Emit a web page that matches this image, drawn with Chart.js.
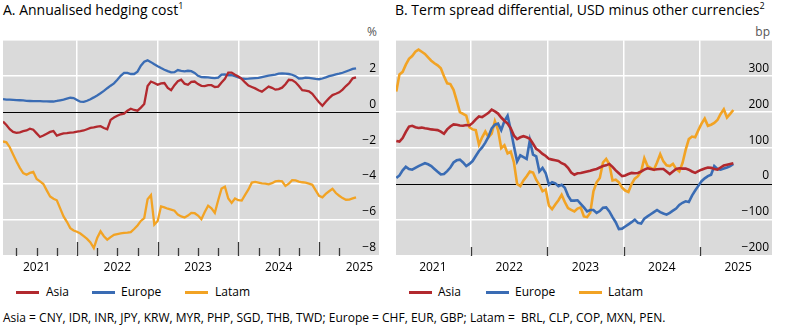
<!DOCTYPE html>
<html lang="en">
<head>
<meta charset="utf-8">
<title>Hedging cost and term spread differential</title>
<script src="https://cdn.jsdelivr.net/npm/chart.js@4.4.1/dist/chart.umd.min.js"></script>
<style>
  body { margin: 0; width: 789px; height: 326px; background: #fff; color: #000;
         font-family: "Open Sans", sans-serif; position: relative; overflow: hidden; }
  .abs { position: absolute; white-space: pre; }
  .title { top: 0; font-size: 14px; line-height: 20px; }
  .title sup { font-size: 9px; vertical-align: 0; position: relative; top: -6px; }
  .unit { top: 24px; font-size: 12px; line-height: 16px; color: #555; }
  .panel { position: absolute; top: 36px; height: 244px; }
  .key { position: absolute; top: 291px; width: 23px; height: 3px; }
  .legend { top: 284px; font-size: 12px; line-height: 16px; }
  .note { left: 3px; top: 310px; font-size: 12px; line-height: 16px; }
</style>
</head>
<body>

<div class="abs title" style="left:3px">A. Annualised hedging cost<sup>1</sup></div>
<div class="abs title" style="left:395px">B. Term spread differential, USD minus other currencies<sup>2</sup></div>
<div class="abs unit" style="right:412px">%</div>
<div class="abs unit" style="right:19px">bp</div>

<div class="panel" style="left:0; width:389px"><canvas id="hedging"></canvas></div>
<div class="panel" style="left:393px; width:396px"><canvas id="spread"></canvas></div>

<div id="legends"></div>

<div class="abs note">Asia = CNY, IDR, INR, JPY, KRW, MYR, PHP, SGD, THB, TWD; Europe = CHF, EUR, GBP; Latam =  BRL, CLP, COP, MXN, PEN.</div>

<script>
// series names and colours, shared by both panels
const seriesNames = ["Asia", "Europe", "Latam"];
const seriesColours = ["#b2292e", "#3a6cb4", "#f2a324"];

// panel A: annualised hedging cost, %, twice a month from Feb 2021
const hedgeStart = 2021 + 1 / 12;
const hedgeAsia = [
  -0.52, -0.72, -0.95, -1.10, -1.15, -1.12, -1.06, -1.02, -0.92, -0.98,
  -1.18, -1.38, -1.30, -1.20, -1.10, -1.05, -1.31, -1.24, -1.18, -1.17,
  -1.14, -1.12, -1.08, -1.06, -1.02, -0.95, -0.88, -0.85, -0.80, -0.78,
  -0.88, -0.95, -0.43, -0.30, -0.20, -0.12, -0.08, 0.08, 0.19, 0.12,
  0.08, 0.25, 0.45, 1.45, 1.70, 1.62, 1.52, 1.60, 1.62, 1.35,
  1.22, 1.50, 1.72, 1.80, 1.58, 1.52, 1.68, 1.70, 1.56, 1.46,
  1.45, 1.50, 1.50, 1.40, 1.42, 1.65, 1.85, 2.20, 2.20, 2.08,
  1.98, 1.85, 1.65, 1.48, 1.40, 1.32, 1.22, 1.14, 1.28, 1.42,
  1.35, 1.25, 1.28, 1.36, 1.55, 1.80, 1.78, 1.66, 1.45, 1.22,
  1.20, 1.16, 1.02, 0.78, 0.55, 0.35, 0.58, 0.78, 0.95, 1.02,
  1.10, 1.25, 1.45, 1.62, 1.88, 1.93
];
const hedgeEurope = [
  0.72, 0.70, 0.69, 0.68, 0.67, 0.66, 0.65, 0.63, 0.62, 0.61,
  0.61, 0.61, 0.60, 0.60, 0.59, 0.59, 0.62, 0.66, 0.70, 0.75,
  0.80, 0.78, 0.68, 0.58, 0.57, 0.63, 0.72, 0.82, 0.93, 1.05,
  1.18, 1.33, 1.47, 1.60, 1.80, 2.02, 2.18, 2.18, 2.12, 2.12,
  2.25, 2.58, 2.80, 2.88, 2.78, 2.66, 2.55, 2.45, 2.36, 2.28,
  2.21, 2.22, 2.34, 2.30, 2.27, 2.30, 2.28, 2.18, 2.02, 1.95,
  1.94, 1.93, 1.91, 1.89, 1.92, 2.08, 2.10, 2.05, 2.06, 2.00,
  1.93, 1.88, 1.85, 1.86, 1.88, 1.89, 1.90, 1.95, 1.99, 2.03,
  2.06, 2.09, 2.14, 2.15, 2.14, 2.12, 2.08, 2.00, 1.87, 1.88,
  1.92, 1.91, 1.88, 1.85, 1.83, 1.87, 1.93, 2.00, 2.05, 2.10,
  2.14, 2.19, 2.26, 2.33, 2.40, 2.44
];
const hedgeLatam = [
  -1.63, -1.68, -1.95, -2.35, -2.75, -3.10, -3.39, -3.48, -3.38, -3.32,
  -3.72, -3.85, -4.00, -4.35, -4.69, -4.82, -4.90, -5.35, -5.80, -6.10,
  -6.45, -6.58, -6.65, -6.75, -6.90, -7.05, -7.25, -7.56, -7.00, -6.63,
  -6.90, -7.09, -6.95, -6.82, -6.78, -6.74, -6.72, -6.70, -6.67, -6.50,
  -6.30, -6.05, -5.89, -4.85, -4.62, -6.25, -6.05, -5.24, -5.30, -5.37,
  -5.42, -5.48, -5.70, -5.80, -5.86, -5.75, -5.60, -5.62, -5.75, -5.95,
  -5.55, -5.20, -5.35, -5.60, -4.90, -4.25, -4.15, -4.80, -5.05, -4.80,
  -4.90, -4.92, -4.60, -4.30, -3.92, -3.88, -3.92, -3.96, -3.98, -4.02,
  -3.95, -3.85, -3.82, -3.85, -4.10, -3.98, -3.78, -3.80, -3.86, -3.90,
  -3.92, -3.98, -4.04, -4.35, -4.65, -4.74, -4.55, -4.40, -4.26, -4.50,
  -4.65, -4.78, -4.87, -4.86, -4.80, -4.74
];
const hedgeTicks = [-8, -6, -4, -2, 0, 2, 4];

// panel B: term spread differential, basis points, twice a month from Jan 2021
const spreadStart = 2021 + 0.5 / 24;
const spreadAsia = [
  120, 118, 128, 145, 160, 162, 158, 156, 157, 155,
  154, 152, 151, 150, 146, 140, 152, 160, 166, 165,
  163, 162, 164, 163, 170, 180, 188, 186, 192, 198,
  207, 202, 196, 185, 176, 168, 155, 135, 125, 130,
  133, 130, 126, 112, 98, 92, 84, 78, 70, 68,
  66, 64, 58, 54, 45, 32, 26, 30, 31, 33,
  35, 37, 40, 42, 46, 50, 52, 56, 48, 38,
  30, 22, 24, 28, 31, 30, 31, 35, 40, 44,
  42, 40, 41, 42, 42, 35, 28, 35, 42, 44,
  43, 43, 40, 35, 31, 36, 40, 43, 46, 45,
  42, 40, 46, 52, 54, 56, 58
];
const spreadEurope = [
  17, 24, 38, 48, 42, 40, 45, 50, 54, 58,
  55, 50, 42, 34, 27, 28, 36, 46, 60, 66,
  68, 60, 50, 56, 64, 78, 92, 102, 115, 132,
  155, 165, 168, 150, 175, 190, 150, 105, 63, 80,
  75, 70, 122, 82, 77, 35, 45, 30, -2, 5,
  2, -6, -2, -10, -32, -46, -46, -45, -55, -65,
  -76, -72, -72, -80, -75, -66, -65, -76, -92, -106,
  -125, -124, -118, -112, -106, -99, -108, -110, -96, -90,
  -84, -78, -72, -78, -82, -85, -80, -74, -68, -58,
  -52, -48, -50, -32, -18, -5, 8, 16, 22, 26,
  50, 42, 40, 43, 46, 50, 56
];
const spreadLatam = [
  257, 305, 312, 332, 348, 356, 368, 374, 368, 362,
  352, 343, 336, 330, 322, 300, 280, 278, 262, 232,
  200, 195, 190, 158, 152, 150, 110, 130, 146, 130,
  140, 175, 150, 100, 108, 85, 90, 60, 0, -6,
  10, 22, 35, 32, 12, -2, -20, -15, -60, -70,
  -57, -45, -30, -50, -67, -72, -76, -68, -65, -90,
  -92, -80, -20, 5, 17, 60, 70, 55, 10, 12,
  5, -10, -18, -22, 0, 15, 22, 35, 72, 50,
  45, 40, 60, 83, 63, 52, 50, 56, 42, 35,
  58, 95, 125, 132, 130, 150, 168, 182, 162, 165,
  170, 178, 195, 208, 185, 195, 206
];
const spreadTicks = [-200, -100, 0, 100, 200, 300, 400];

const yearLabels = [2021, 2022, 2023, 2024, 2025];

const FONT = "'Open Sans', sans-serif";

// date of each semi-monthly observation, as a fractional year
function points(start, values) {
  return values.map((v, i) => ({ x: start + i / 24, y: v }));
}

function minus(v) {
  return v < 0 ? "\u2212" + Math.abs(v) : String(v);
}

// grey plot background plus the small tick marks standing on the bottom edge
const panelFrame = {
  id: "panelFrame",
  beforeDraw(chart, args, opts) {
    const { ctx, chartArea: a } = chart;
    ctx.save();
    ctx.fillStyle = "#dadada";
    ctx.fillRect(a.left, a.top, a.width, a.height);
    ctx.restore();
  },
  afterDraw(chart, args, opts) {
    const { ctx, chartArea: a, scales } = chart;
    ctx.save();
    ctx.strokeStyle = "#3a3a3a";
    ctx.lineWidth = 1.3;
    for (const m of opts.marks || []) {
      const x = Math.round(scales.x.getPixelForValue(m.at)) + 0.5;
      ctx.beginPath();
      ctx.moveTo(x, a.bottom);
      ctx.lineTo(x, a.bottom - m.len);
      ctx.stroke();
    }
    ctx.restore();
  }
};

function makePanel(id, cfg) {
  const xTicks = [];
  yearLabels.forEach(y => {
    xTicks.push(y + 0.5);
    if (y > yearLabels[0]) xTicks.push(y);
  });
  xTicks.sort((a, b) => a - b);

  const yMax = cfg.yTicks[cfg.yTicks.length - 1];

  return new Chart(document.getElementById(id), {
    type: "line",
    data: {
      datasets: cfg.series.map((vals, i) => ({
        label: seriesNames[i],
        data: points(cfg.start, vals),
        borderColor: seriesColours[i],
        borderWidth: cfg.lineWidth,
        pointRadius: 0,
        tension: 0,
        fill: false
      }))
    },
    options: {
      responsive: true,
      maintainAspectRatio: false,
      animation: false,
      layout: { padding: { left: 3, right: cfg.padRight, top: 4, bottom: 0 } },
      plugins: {
        legend: { display: false },
        tooltip: { enabled: false },
        panelFrame: { marks: cfg.marks }
      },
      scales: {
        x: {
          type: "linear",
          min: cfg.xMin,
          max: cfg.xMax,
          afterBuildTicks: s => { s.ticks = xTicks.map(v => ({ value: v })); },
          afterFit: s => { s.height = 24; },
          border: { display: false },
          grid: {
            drawTicks: false,
            color: c => Number.isInteger(c.tick.value) ? "#ffffff" : "rgba(0,0,0,0)",
            lineWidth: 1.5
          },
          ticks: {
            autoSkip: false,
            maxRotation: 0,
            padding: 4,
            color: "#000",
            font: { family: FONT, size: 12 },
            callback: v => Number.isInteger(v) ? "" : String(Math.floor(v))
          }
        },
        y: {
          position: "right",
          min: cfg.yTicks[0],
          max: yMax,
          afterBuildTicks: s => { s.ticks = cfg.yTicks.map(v => ({ value: v })); },
          afterFit: s => { s.width = 0; },
          border: { display: false },
          grid: {
            drawTicks: false,
            color: c => c.tick.value === 0 ? "#000000" : "#ffffff",
            lineWidth: c => c.tick.value === 0 ? 1 : 1.5
          },
          ticks: {
            mirror: true,
            padding: -3,
            labelOffset: -8,
            color: "#000",
            font: { family: FONT, size: 12 },
            callback: v => v === yMax ? "" : minus(v)
          }
        }
      }
    },
    plugins: [panelFrame]
  });
}

// quarterly marks in panel A, taller at the turn of each year
const hedgeMarks = [];
for (let q = 2021.25; q <= 2025.25; q += 0.25) {
  hedgeMarks.push({ at: q, len: Number.isInteger(q) ? 14 : 8 });
}
const spreadMarks = [2022, 2023, 2024, 2025].map(y => ({ at: y, len: 9 }));

makePanel("hedging", {
  start: hedgeStart,
  series: [hedgeAsia, hedgeEurope, hedgeLatam],
  xMin: 2021.083, xMax: 2025.743,
  yTicks: hedgeTicks,
  lineWidth: 2.3,
  padRight: 10,
  marks: hedgeMarks
});

makePanel("spread", {
  start: spreadStart,
  series: [spreadAsia, spreadEurope, spreadLatam],
  xMin: 2021.017, xMax: 2025.944,
  yTicks: spreadTicks,
  lineWidth: 2.6,
  padRight: 17,
  marks: spreadMarks
});

// legends under each panel
const legendSpots = [
  [[16, 46], [92, 121], [185, 215]],
  [[409, 438], [486, 515], [579, 608]]
];
const legendBox = document.getElementById("legends");
legendSpots.forEach(row => {
  row.forEach(([lineX, textX], i) => {
    const key = document.createElement("div");
    key.className = "key";
    key.style.left = lineX + "px";
    key.style.background = seriesColours[i];
    legendBox.appendChild(key);
    const txt = document.createElement("div");
    txt.className = "abs legend";
    txt.style.left = textX + "px";
    txt.textContent = seriesNames[i];
    legendBox.appendChild(txt);
  });
});
</script>
</body>
</html>
